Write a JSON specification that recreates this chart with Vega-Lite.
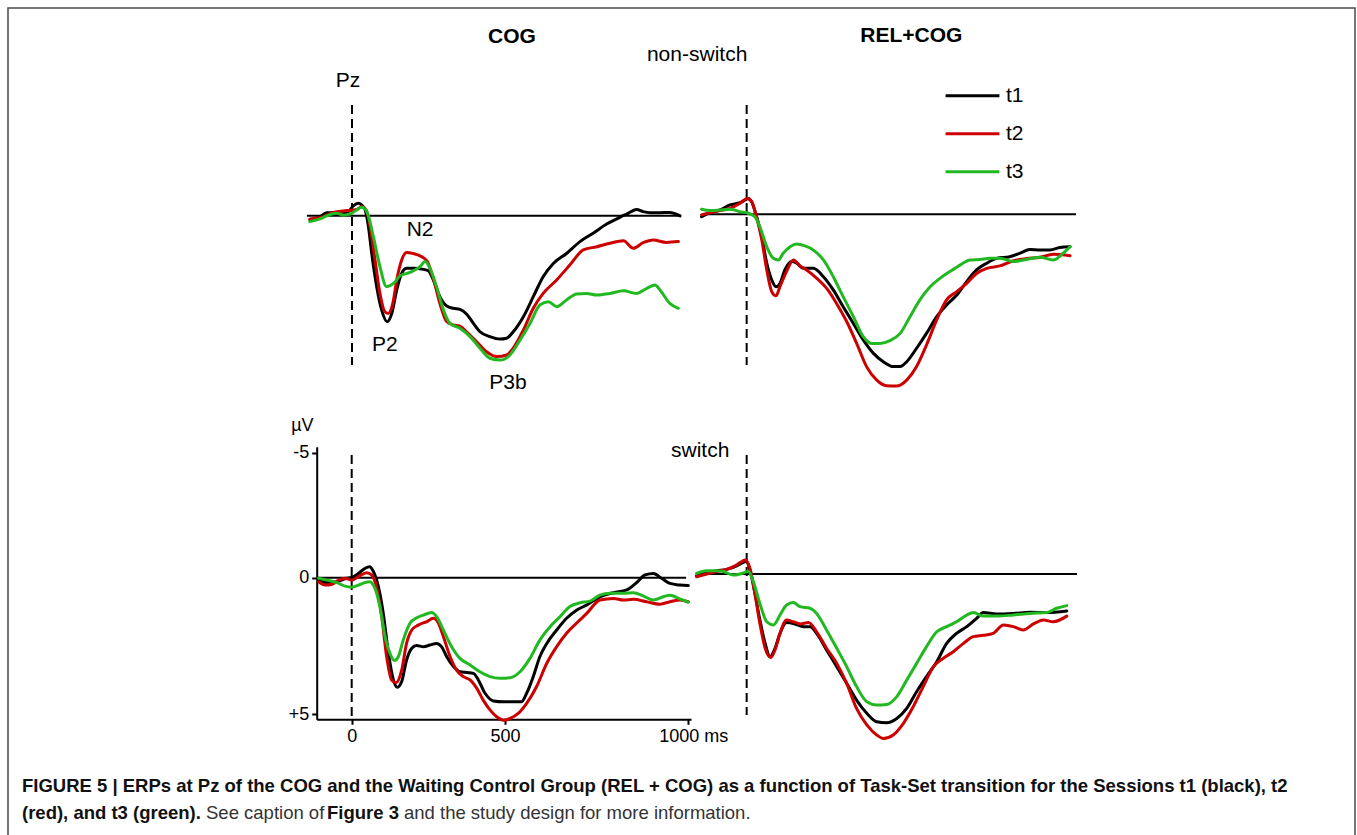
{
  "$schema": "https://vega.github.io/schema/vega-lite/v6.json",
  "width": 1357,
  "height": 835,
  "autosize": {"type": "fit", "contains": "padding"},
  "padding": {"left": 8, "top": 8, "right": 2, "bottom": -4},
  "background": "#ffffff",
  "config": {"view": {"stroke": "#4a4a4a", "strokeWidth": 1.5}, "font": "Liberation Sans"},
  "datasets": {
    "baselines": [
      {"panel": "TL", "from": -137, "to": 1000, "level": 0},
      {"panel": "TR", "from": -136, "to": 1000, "level": 0},
      {"panel": "BL", "from": -114, "to": 994, "level": 0},
      {"panel": "BR", "from": -151, "to": 1001, "level": 0}
    ],
    "onsets": [
      {"panel": "TL", "time": 0, "lo": -4.10, "hi": 5.53},
      {"panel": "TR", "time": 0, "lo": -4.05, "hi": 5.58},
      {"panel": "BL", "time": 0, "lo": -4.91, "hi": 5.19},
      {"panel": "BR", "time": 0, "lo": -4.41, "hi": 5.22}
    ],
    "labels": [
      {"panel": "TL", "kind": "group", "label": "COG", "time": 486, "uV": -6.62},
      {"panel": "TL", "kind": "note", "label": "non-switch", "time": 1049, "uV": -5.95},
      {"panel": "TL", "kind": "note", "label": "Pz", "time": -12, "uV": -4.99},
      {"panel": "TL", "kind": "note", "label": "N2", "time": 207, "uV": 0.53},
      {"panel": "TL", "kind": "note", "label": "P2", "time": 100, "uV": 4.79},
      {"panel": "TL", "kind": "note", "label": "P3b", "time": 474, "uV": 6.20},
      {"panel": "TR", "kind": "group", "label": "REL+COG", "time": 500, "uV": -6.59},
      {"panel": "BR", "kind": "note", "label": "switch", "time": -141, "uV": -4.57},
      {"panel": "BL", "kind": "note", "label": "µV", "time": -162, "uV": -6.07}
    ],
    "caption": [
      {"line": 1, "seg": 0, "kind": "title", "text": "FIGURE 5 | ERPs at Pz of the COG and the Waiting Control Group (REL + COG) as a function of Task-Set transition for the Sessions t1 (black), t2"},
      {"line": 2, "seg": 0, "kind": "title", "text": "(red), and t3 (green)."},
      {"line": 2, "seg": 1, "kind": "body", "text": "See caption of"},
      {"line": 2, "seg": 2, "kind": "ref", "text": "Figure 3"},
      {"line": 2, "seg": 3, "kind": "body", "text": "and the study design for more information."}
    ],
    "curves": [
      {"panel":"TL","session":"t1","time":-128,"uV":0.16},{"panel":"TL","session":"t1","time":-97,"uV":0.04},{"panel":"TL","session":"t1","time":-77,"uV":-0.11},{"panel":"TL","session":"t1","time":-57,"uV":-0.11},{"panel":"TL","session":"t1","time":-36,"uV":-0.06},{"panel":"TL","session":"t1","time":-11,"uV":-0.15},{"panel":"TL","session":"t1","time":4,"uV":-0.36},{"panel":"TL","session":"t1","time":19,"uV":-0.46},{"panel":"TL","session":"t1","time":29,"uV":-0.40},{"panel":"TL","session":"t1","time":40,"uV":-0.21},{"panel":"TL","session":"t1","time":50,"uV":0.41},{"panel":"TL","session":"t1","time":60,"uV":1.40},{"panel":"TL","session":"t1","time":75,"uV":2.63},{"panel":"TL","session":"t1","time":90,"uV":3.49},{"panel":"TL","session":"t1","time":107,"uV":3.93},{"panel":"TL","session":"t1","time":121,"uV":3.62},{"panel":"TL","session":"t1","time":136,"uV":2.75},{"panel":"TL","session":"t1","time":151,"uV":2.14},{"panel":"TL","session":"t1","time":166,"uV":1.95},{"panel":"TL","session":"t1","time":186,"uV":1.95},{"panel":"TL","session":"t1","time":217,"uV":1.99},{"panel":"TL","session":"t1","time":232,"uV":2.04},{"panel":"TL","session":"t1","time":247,"uV":2.38},{"panel":"TL","session":"t1","time":267,"uV":3.0},{"panel":"TL","session":"t1","time":288,"uV":3.35},{"panel":"TL","session":"t1","time":308,"uV":3.43},{"panel":"TL","session":"t1","time":328,"uV":3.47},{"panel":"TL","session":"t1","time":348,"uV":3.64},{"panel":"TL","session":"t1","time":369,"uV":3.99},{"panel":"TL","session":"t1","time":389,"uV":4.30},{"panel":"TL","session":"t1","time":419,"uV":4.48},{"panel":"TL","session":"t1","time":450,"uV":4.57},{"panel":"TL","session":"t1","time":470,"uV":4.54},{"panel":"TL","session":"t1","time":490,"uV":4.30},{"panel":"TL","session":"t1","time":521,"uV":3.74},{"panel":"TL","session":"t1","time":551,"uV":3.0},{"panel":"TL","session":"t1","time":581,"uV":2.26},{"panel":"TL","session":"t1","time":612,"uV":1.77},{"panel":"TL","session":"t1","time":652,"uV":1.40},{"panel":"TL","session":"t1","time":693,"uV":0.96},{"panel":"TL","session":"t1","time":733,"uV":0.65},{"panel":"TL","session":"t1","time":774,"uV":0.31},{"panel":"TL","session":"t1","time":814,"uV":0.06},{"panel":"TL","session":"t1","time":835,"uV":-0.06},{"panel":"TL","session":"t1","time":865,"uV":-0.23},{"panel":"TL","session":"t1","time":885,"uV":-0.15},{"panel":"TL","session":"t1","time":906,"uV":-0.11},{"panel":"TL","session":"t1","time":936,"uV":-0.11},{"panel":"TL","session":"t1","time":966,"uV":-0.12},{"panel":"TL","session":"t1","time":997,"uV":0.01},
      {"panel":"TL","session":"t2","time":-128,"uV":0.12},{"panel":"TL","session":"t2","time":-87,"uV":0.04},{"panel":"TL","session":"t2","time":-57,"uV":-0.12},{"panel":"TL","session":"t2","time":-16,"uV":-0.19},{"panel":"TL","session":"t2","time":14,"uV":-0.23},{"panel":"TL","session":"t2","time":29,"uV":-0.33},{"panel":"TL","session":"t2","time":43,"uV":-0.21},{"panel":"TL","session":"t2","time":55,"uV":0.41},{"panel":"TL","session":"t2","time":70,"uV":1.64},{"panel":"TL","session":"t2","time":85,"uV":2.88},{"panel":"TL","session":"t2","time":100,"uV":3.56},{"panel":"TL","session":"t2","time":110,"uV":3.62},{"panel":"TL","session":"t2","time":124,"uV":3.25},{"panel":"TL","session":"t2","time":136,"uV":2.38},{"panel":"TL","session":"t2","time":151,"uV":1.64},{"panel":"TL","session":"t2","time":166,"uV":1.36},{"panel":"TL","session":"t2","time":186,"uV":1.40},{"panel":"TL","session":"t2","time":212,"uV":1.52},{"panel":"TL","session":"t2","time":229,"uV":1.70},{"panel":"TL","session":"t2","time":247,"uV":2.32},{"panel":"TL","session":"t2","time":267,"uV":3.25},{"panel":"TL","session":"t2","time":288,"uV":3.93},{"panel":"TL","session":"t2","time":308,"uV":4.05},{"panel":"TL","session":"t2","time":328,"uV":4.09},{"panel":"TL","session":"t2","time":348,"uV":4.30},{"panel":"TL","session":"t2","time":379,"uV":4.67},{"panel":"TL","session":"t2","time":409,"uV":5.04},{"panel":"TL","session":"t2","time":440,"uV":5.22},{"panel":"TL","session":"t2","time":470,"uV":5.16},{"panel":"TL","session":"t2","time":490,"uV":4.91},{"panel":"TL","session":"t2","time":521,"uV":4.23},{"panel":"TL","session":"t2","time":551,"uV":3.43},{"panel":"TL","session":"t2","time":581,"uV":2.88},{"panel":"TL","session":"t2","time":622,"uV":2.38},{"panel":"TL","session":"t2","time":662,"uV":1.83},{"panel":"TL","session":"t2","time":703,"uV":1.27},{"panel":"TL","session":"t2","time":744,"uV":1.15},{"panel":"TL","session":"t2","time":784,"uV":1.02},{"panel":"TL","session":"t2","time":825,"uV":0.93},{"panel":"TL","session":"t2","time":855,"uV":1.21},{"panel":"TL","session":"t2","time":885,"uV":1.0},{"panel":"TL","session":"t2","time":916,"uV":0.90},{"panel":"TL","session":"t2","time":956,"uV":0.99},{"panel":"TL","session":"t2","time":992,"uV":0.96},
      {"panel":"TL","session":"t3","time":-128,"uV":0.22},{"panel":"TL","session":"t3","time":-97,"uV":0.12},{"panel":"TL","session":"t3","time":-77,"uV":0.01},{"panel":"TL","session":"t3","time":-47,"uV":-0.09},{"panel":"TL","session":"t3","time":-26,"uV":-0.02},{"panel":"TL","session":"t3","time":-6,"uV":-0.06},{"panel":"TL","session":"t3","time":14,"uV":-0.21},{"panel":"TL","session":"t3","time":29,"uV":-0.31},{"panel":"TL","session":"t3","time":45,"uV":-0.15},{"panel":"TL","session":"t3","time":65,"uV":0.78},{"panel":"TL","session":"t3","time":85,"uV":1.89},{"panel":"TL","session":"t3","time":105,"uV":2.63},{"panel":"TL","session":"t3","time":126,"uV":2.51},{"panel":"TL","session":"t3","time":146,"uV":2.23},{"panel":"TL","session":"t3","time":176,"uV":2.10},{"panel":"TL","session":"t3","time":207,"uV":1.89},{"panel":"TL","session":"t3","time":222,"uV":1.70},{"panel":"TL","session":"t3","time":237,"uV":1.95},{"panel":"TL","session":"t3","time":257,"uV":2.63},{"panel":"TL","session":"t3","time":278,"uV":3.49},{"panel":"TL","session":"t3","time":298,"uV":3.99},{"panel":"TL","session":"t3","time":328,"uV":4.17},{"panel":"TL","session":"t3","time":359,"uV":4.48},{"panel":"TL","session":"t3","time":389,"uV":4.91},{"panel":"TL","session":"t3","time":419,"uV":5.28},{"panel":"TL","session":"t3","time":450,"uV":5.35},{"panel":"TL","session":"t3","time":480,"uV":5.16},{"panel":"TL","session":"t3","time":511,"uV":4.60},{"panel":"TL","session":"t3","time":541,"uV":3.99},{"panel":"TL","session":"t3","time":571,"uV":3.31},{"panel":"TL","session":"t3","time":597,"uV":3.19},{"panel":"TL","session":"t3","time":622,"uV":3.37},{"panel":"TL","session":"t3","time":652,"uV":3.12},{"panel":"TL","session":"t3","time":683,"uV":2.90},{"panel":"TL","session":"t3","time":713,"uV":2.88},{"panel":"TL","session":"t3","time":744,"uV":2.94},{"panel":"TL","session":"t3","time":784,"uV":2.88},{"panel":"TL","session":"t3","time":825,"uV":2.78},{"panel":"TL","session":"t3","time":865,"uV":2.88},{"panel":"TL","session":"t3","time":896,"uV":2.69},{"panel":"TL","session":"t3","time":921,"uV":2.57},{"panel":"TL","session":"t3","time":936,"uV":2.75},{"panel":"TL","session":"t3","time":966,"uV":3.25},{"panel":"TL","session":"t3","time":992,"uV":3.43},
      {"panel":"TR","session":"t1","time":-137,"uV":0.09},{"panel":"TR","session":"t1","time":-111,"uV":-0.06},{"panel":"TR","session":"t1","time":-81,"uV":-0.16},{"panel":"TR","session":"t1","time":-51,"uV":-0.35},{"panel":"TR","session":"t1","time":-20,"uV":-0.43},{"panel":"TR","session":"t1","time":-5,"uV":-0.53},{"panel":"TR","session":"t1","time":5,"uV":-0.59},{"panel":"TR","session":"t1","time":15,"uV":-0.47},{"panel":"TR","session":"t1","time":30,"uV":0.09},{"panel":"TR","session":"t1","time":46,"uV":0.83},{"panel":"TR","session":"t1","time":61,"uV":1.81},{"panel":"TR","session":"t1","time":76,"uV":2.43},{"panel":"TR","session":"t1","time":89,"uV":2.68},{"panel":"TR","session":"t1","time":101,"uV":2.56},{"panel":"TR","session":"t1","time":116,"uV":2.06},{"panel":"TR","session":"t1","time":137,"uV":1.75},{"panel":"TR","session":"t1","time":152,"uV":1.81},{"panel":"TR","session":"t1","time":172,"uV":2.0},{"panel":"TR","session":"t1","time":202,"uV":2.0},{"panel":"TR","session":"t1","time":233,"uV":2.31},{"panel":"TR","session":"t1","time":263,"uV":2.80},{"panel":"TR","session":"t1","time":293,"uV":3.42},{"panel":"TR","session":"t1","time":324,"uV":4.04},{"panel":"TR","session":"t1","time":354,"uV":4.65},{"panel":"TR","session":"t1","time":385,"uV":5.15},{"panel":"TR","session":"t1","time":415,"uV":5.46},{"panel":"TR","session":"t1","time":445,"uV":5.64},{"panel":"TR","session":"t1","time":466,"uV":5.64},{"panel":"TR","session":"t1","time":486,"uV":5.46},{"panel":"TR","session":"t1","time":516,"uV":4.96},{"panel":"TR","session":"t1","time":546,"uV":4.41},{"panel":"TR","session":"t1","time":577,"uV":3.79},{"panel":"TR","session":"t1","time":607,"uV":3.36},{"panel":"TR","session":"t1","time":638,"uV":2.99},{"panel":"TR","session":"t1","time":668,"uV":2.49},{"panel":"TR","session":"t1","time":698,"uV":2.06},{"panel":"TR","session":"t1","time":729,"uV":1.81},{"panel":"TR","session":"t1","time":759,"uV":1.63},{"panel":"TR","session":"t1","time":799,"uV":1.57},{"panel":"TR","session":"t1","time":830,"uV":1.44},{"panel":"TR","session":"t1","time":860,"uV":1.30},{"panel":"TR","session":"t1","time":891,"uV":1.32},{"panel":"TR","session":"t1","time":921,"uV":1.32},{"panel":"TR","session":"t1","time":951,"uV":1.23},{"panel":"TR","session":"t1","time":982,"uV":1.20},
      {"panel":"TR","session":"t2","time":-137,"uV":0.02},{"panel":"TR","session":"t2","time":-111,"uV":-0.06},{"panel":"TR","session":"t2","time":-81,"uV":-0.14},{"panel":"TR","session":"t2","time":-51,"uV":-0.22},{"panel":"TR","session":"t2","time":-20,"uV":-0.41},{"panel":"TR","session":"t2","time":2,"uV":-0.59},{"panel":"TR","session":"t2","time":15,"uV":-0.47},{"panel":"TR","session":"t2","time":30,"uV":0.09},{"panel":"TR","session":"t2","time":46,"uV":0.95},{"panel":"TR","session":"t2","time":61,"uV":2.06},{"panel":"TR","session":"t2","time":76,"uV":2.86},{"panel":"TR","session":"t2","time":89,"uV":3.02},{"panel":"TR","session":"t2","time":101,"uV":2.68},{"panel":"TR","session":"t2","time":121,"uV":2.12},{"panel":"TR","session":"t2","time":142,"uV":1.69},{"panel":"TR","session":"t2","time":162,"uV":1.91},{"panel":"TR","session":"t2","time":182,"uV":2.06},{"panel":"TR","session":"t2","time":213,"uV":2.37},{"panel":"TR","session":"t2","time":243,"uV":2.74},{"panel":"TR","session":"t2","time":273,"uV":3.30},{"panel":"TR","session":"t2","time":304,"uV":3.98},{"panel":"TR","session":"t2","time":334,"uV":4.78},{"panel":"TR","session":"t2","time":364,"uV":5.64},{"panel":"TR","session":"t2","time":395,"uV":6.14},{"panel":"TR","session":"t2","time":425,"uV":6.35},{"panel":"TR","session":"t2","time":455,"uV":6.36},{"panel":"TR","session":"t2","time":486,"uV":6.14},{"panel":"TR","session":"t2","time":516,"uV":5.64},{"panel":"TR","session":"t2","time":546,"uV":4.84},{"panel":"TR","session":"t2","time":577,"uV":3.91},{"panel":"TR","session":"t2","time":607,"uV":3.17},{"panel":"TR","session":"t2","time":638,"uV":2.86},{"panel":"TR","session":"t2","time":668,"uV":2.56},{"panel":"TR","session":"t2","time":698,"uV":2.19},{"panel":"TR","session":"t2","time":729,"uV":2.0},{"panel":"TR","session":"t2","time":769,"uV":1.91},{"panel":"TR","session":"t2","time":810,"uV":1.72},{"panel":"TR","session":"t2","time":850,"uV":1.64},{"panel":"TR","session":"t2","time":891,"uV":1.59},{"panel":"TR","session":"t2","time":931,"uV":1.48},{"panel":"TR","session":"t2","time":982,"uV":1.53},
      {"panel":"TR","session":"t3","time":-137,"uV":-0.19},{"panel":"TR","session":"t3","time":-111,"uV":-0.14},{"panel":"TR","session":"t3","time":-81,"uV":-0.16},{"panel":"TR","session":"t3","time":-51,"uV":-0.19},{"panel":"TR","session":"t3","time":-20,"uV":-0.10},{"panel":"TR","session":"t3","time":5,"uV":-0.04},{"panel":"TR","session":"t3","time":25,"uV":0.09},{"panel":"TR","session":"t3","time":40,"uV":0.46},{"panel":"TR","session":"t3","time":61,"uV":1.20},{"panel":"TR","session":"t3","time":81,"uV":1.63},{"panel":"TR","session":"t3","time":96,"uV":1.69},{"panel":"TR","session":"t3","time":111,"uV":1.44},{"panel":"TR","session":"t3","time":132,"uV":1.20},{"panel":"TR","session":"t3","time":152,"uV":1.10},{"panel":"TR","session":"t3","time":177,"uV":1.17},{"panel":"TR","session":"t3","time":202,"uV":1.32},{"panel":"TR","session":"t3","time":233,"uV":1.69},{"panel":"TR","session":"t3","time":263,"uV":2.31},{"panel":"TR","session":"t3","time":293,"uV":3.05},{"panel":"TR","session":"t3","time":324,"uV":3.79},{"panel":"TR","session":"t3","time":354,"uV":4.53},{"panel":"TR","session":"t3","time":380,"uV":4.78},{"panel":"TR","session":"t3","time":405,"uV":4.78},{"panel":"TR","session":"t3","time":435,"uV":4.68},{"panel":"TR","session":"t3","time":466,"uV":4.41},{"panel":"TR","session":"t3","time":496,"uV":3.79},{"panel":"TR","session":"t3","time":526,"uV":3.17},{"panel":"TR","session":"t3","time":557,"uV":2.68},{"panel":"TR","session":"t3","time":587,"uV":2.37},{"panel":"TR","session":"t3","time":617,"uV":2.12},{"panel":"TR","session":"t3","time":648,"uV":1.88},{"panel":"TR","session":"t3","time":678,"uV":1.69},{"panel":"TR","session":"t3","time":708,"uV":1.67},{"panel":"TR","session":"t3","time":739,"uV":1.63},{"panel":"TR","session":"t3","time":769,"uV":1.63},{"panel":"TR","session":"t3","time":810,"uV":1.75},{"panel":"TR","session":"t3","time":850,"uV":1.67},{"panel":"TR","session":"t3","time":891,"uV":1.59},{"panel":"TR","session":"t3","time":931,"uV":1.69},{"panel":"TR","session":"t3","time":961,"uV":1.44},{"panel":"TR","session":"t3","time":982,"uV":1.20},
      {"panel":"BL","session":"t1","time":-109,"uV":0.09},{"panel":"BL","session":"t1","time":-82,"uV":0.18},{"panel":"BL","session":"t1","time":-49,"uV":0.15},{"panel":"BL","session":"t1","time":-16,"uV":0.02},{"panel":"BL","session":"t1","time":0,"uV":-0.01},{"panel":"BL","session":"t1","time":22,"uV":-0.17},{"panel":"BL","session":"t1","time":43,"uV":-0.37},{"panel":"BL","session":"t1","time":58,"uV":-0.44},{"panel":"BL","session":"t1","time":71,"uV":-0.24},{"panel":"BL","session":"t1","time":87,"uV":0.33},{"panel":"BL","session":"t1","time":103,"uV":1.31},{"panel":"BL","session":"t1","time":120,"uV":2.78},{"panel":"BL","session":"t1","time":136,"uV":3.75},{"panel":"BL","session":"t1","time":149,"uV":4.02},{"panel":"BL","session":"t1","time":163,"uV":3.81},{"panel":"BL","session":"t1","time":179,"uV":3.02},{"panel":"BL","session":"t1","time":196,"uV":2.59},{"panel":"BL","session":"t1","time":212,"uV":2.49},{"panel":"BL","session":"t1","time":234,"uV":2.53},{"panel":"BL","session":"t1","time":255,"uV":2.47},{"panel":"BL","session":"t1","time":277,"uV":2.41},{"panel":"BL","session":"t1","time":293,"uV":2.53},{"panel":"BL","session":"t1","time":310,"uV":2.90},{"panel":"BL","session":"t1","time":332,"uV":3.26},{"panel":"BL","session":"t1","time":353,"uV":3.45},{"panel":"BL","session":"t1","time":375,"uV":3.48},{"panel":"BL","session":"t1","time":397,"uV":3.51},{"panel":"BL","session":"t1","time":413,"uV":3.75},{"panel":"BL","session":"t1","time":435,"uV":4.24},{"panel":"BL","session":"t1","time":462,"uV":4.52},{"panel":"BL","session":"t1","time":495,"uV":4.55},{"panel":"BL","session":"t1","time":523,"uV":4.55},{"panel":"BL","session":"t1","time":545,"uV":4.55},{"panel":"BL","session":"t1","time":559,"uV":4.24},{"panel":"BL","session":"t1","time":577,"uV":3.63},{"panel":"BL","session":"t1","time":595,"uV":2.90},{"panel":"BL","session":"t1","time":614,"uV":2.41},{"panel":"BL","session":"t1","time":641,"uV":1.92},{"panel":"BL","session":"t1","time":668,"uV":1.49},{"panel":"BL","session":"t1","time":695,"uV":1.19},{"panel":"BL","session":"t1","time":723,"uV":1.00},{"panel":"BL","session":"t1","time":759,"uV":0.70},{"panel":"BL","session":"t1","time":796,"uV":0.55},{"panel":"BL","session":"t1","time":832,"uV":0.45},{"panel":"BL","session":"t1","time":859,"uV":0.18},{"panel":"BL","session":"t1","time":882,"uV":-0.11},{"panel":"BL","session":"t1","time":905,"uV":-0.17},{"panel":"BL","session":"t1","time":927,"uV":0.02},{"panel":"BL","session":"t1","time":950,"uV":0.21},{"panel":"BL","session":"t1","time":977,"uV":0.27},{"panel":"BL","session":"t1","time":1000,"uV":0.29},
      {"panel":"BL","session":"t2","time":-109,"uV":0.15},{"panel":"BL","session":"t2","time":-87,"uV":0.27},{"panel":"BL","session":"t2","time":-65,"uV":0.24},{"panel":"BL","session":"t2","time":-43,"uV":0.09},{"panel":"BL","session":"t2","time":-22,"uV":0.02},{"panel":"BL","session":"t2","time":0,"uV":0.09},{"panel":"BL","session":"t2","time":22,"uV":-0.04},{"panel":"BL","session":"t2","time":49,"uV":-0.20},{"panel":"BL","session":"t2","time":65,"uV":-0.11},{"panel":"BL","session":"t2","time":82,"uV":0.39},{"panel":"BL","session":"t2","time":98,"uV":1.43},{"panel":"BL","session":"t2","time":114,"uV":2.90},{"panel":"BL","session":"t2","time":130,"uV":3.75},{"panel":"BL","session":"t2","time":145,"uV":3.85},{"panel":"BL","session":"t2","time":163,"uV":3.39},{"panel":"BL","session":"t2","time":179,"uV":2.41},{"panel":"BL","session":"t2","time":196,"uV":1.92},{"panel":"BL","session":"t2","time":217,"uV":1.74},{"panel":"BL","session":"t2","time":245,"uV":1.61},{"panel":"BL","session":"t2","time":266,"uV":1.49},{"panel":"BL","session":"t2","time":283,"uV":1.67},{"panel":"BL","session":"t2","time":299,"uV":2.16},{"panel":"BL","session":"t2","time":321,"uV":2.90},{"panel":"BL","session":"t2","time":342,"uV":3.39},{"panel":"BL","session":"t2","time":364,"uV":3.63},{"panel":"BL","session":"t2","time":386,"uV":3.75},{"panel":"BL","session":"t2","time":408,"uV":4.06},{"panel":"BL","session":"t2","time":429,"uV":4.49},{"panel":"BL","session":"t2","time":451,"uV":4.85},{"panel":"BL","session":"t2","time":473,"uV":5.10},{"panel":"BL","session":"t2","time":495,"uV":5.22},{"panel":"BL","session":"t2","time":514,"uV":5.16},{"panel":"BL","session":"t2","time":536,"uV":4.98},{"panel":"BL","session":"t2","time":559,"uV":4.61},{"panel":"BL","session":"t2","time":586,"uV":4.00},{"panel":"BL","session":"t2","time":614,"uV":3.14},{"panel":"BL","session":"t2","time":641,"uV":2.53},{"panel":"BL","session":"t2","time":668,"uV":2.04},{"panel":"BL","session":"t2","time":695,"uV":1.67},{"panel":"BL","session":"t2","time":723,"uV":1.31},{"panel":"BL","session":"t2","time":759,"uV":0.82},{"panel":"BL","session":"t2","time":796,"uV":0.76},{"panel":"BL","session":"t2","time":823,"uV":0.82},{"panel":"BL","session":"t2","time":850,"uV":0.79},{"panel":"BL","session":"t2","time":886,"uV":0.88},{"panel":"BL","session":"t2","time":923,"uV":0.97},{"panel":"BL","session":"t2","time":950,"uV":0.88},{"panel":"BL","session":"t2","time":977,"uV":0.82},{"panel":"BL","session":"t2","time":1000,"uV":0.88},
      {"panel":"BL","session":"t3","time":-109,"uV":0.02},{"panel":"BL","session":"t3","time":-82,"uV":0.09},{"panel":"BL","session":"t3","time":-49,"uV":0.18},{"panel":"BL","session":"t3","time":-22,"uV":0.31},{"panel":"BL","session":"t3","time":0,"uV":0.35},{"panel":"BL","session":"t3","time":22,"uV":0.27},{"panel":"BL","session":"t3","time":43,"uV":0.18},{"panel":"BL","session":"t3","time":58,"uV":0.15},{"panel":"BL","session":"t3","time":76,"uV":0.39},{"panel":"BL","session":"t3","time":92,"uV":1.06},{"panel":"BL","session":"t3","time":109,"uV":2.16},{"panel":"BL","session":"t3","time":125,"uV":2.78},{"panel":"BL","session":"t3","time":139,"uV":3.04},{"panel":"BL","session":"t3","time":152,"uV":2.90},{"panel":"BL","session":"t3","time":168,"uV":2.29},{"panel":"BL","session":"t3","time":190,"uV":1.67},{"panel":"BL","session":"t3","time":212,"uV":1.47},{"panel":"BL","session":"t3","time":234,"uV":1.37},{"panel":"BL","session":"t3","time":261,"uV":1.28},{"panel":"BL","session":"t3","time":277,"uV":1.43},{"panel":"BL","session":"t3","time":299,"uV":1.92},{"panel":"BL","session":"t3","time":326,"uV":2.53},{"panel":"BL","session":"t3","time":353,"uV":2.96},{"panel":"BL","session":"t3","time":386,"uV":3.20},{"panel":"BL","session":"t3","time":418,"uV":3.45},{"panel":"BL","session":"t3","time":451,"uV":3.63},{"panel":"BL","session":"t3","time":484,"uV":3.69},{"panel":"BL","session":"t3","time":514,"uV":3.67},{"panel":"BL","session":"t3","time":541,"uV":3.45},{"panel":"BL","session":"t3","time":568,"uV":2.96},{"panel":"BL","session":"t3","time":595,"uV":2.29},{"panel":"BL","session":"t3","time":623,"uV":1.80},{"panel":"BL","session":"t3","time":650,"uV":1.43},{"panel":"BL","session":"t3","time":677,"uV":1.06},{"panel":"BL","session":"t3","time":705,"uV":0.92},{"panel":"BL","session":"t3","time":732,"uV":0.86},{"panel":"BL","session":"t3","time":759,"uV":0.64},{"panel":"BL","session":"t3","time":786,"uV":0.57},{"panel":"BL","session":"t3","time":823,"uV":0.57},{"panel":"BL","session":"t3","time":850,"uV":0.55},{"panel":"BL","session":"t3","time":877,"uV":0.67},{"panel":"BL","session":"t3","time":905,"uV":0.82},{"panel":"BL","session":"t3","time":932,"uV":0.70},{"panel":"BL","session":"t3","time":950,"uV":0.64},{"panel":"BL","session":"t3","time":977,"uV":0.78},{"panel":"BL","session":"t3","time":1000,"uV":0.90},
      {"panel":"BR","session":"t1","time":-152,"uV":0.07},{"panel":"BR","session":"t1","time":-121,"uV":-0.05},{"panel":"BR","session":"t1","time":-91,"uV":-0.12},{"panel":"BR","session":"t1","time":-61,"uV":-0.17},{"panel":"BR","session":"t1","time":-35,"uV":-0.27},{"panel":"BR","session":"t1","time":-15,"uV":-0.40},{"panel":"BR","session":"t1","time":-2,"uV":-0.46},{"panel":"BR","session":"t1","time":10,"uV":-0.15},{"panel":"BR","session":"t1","time":25,"uV":0.72},{"panel":"BR","session":"t1","time":40,"uV":1.70},{"panel":"BR","session":"t1","time":56,"uV":2.57},{"panel":"BR","session":"t1","time":71,"uV":3.06},{"panel":"BR","session":"t1","time":86,"uV":2.75},{"panel":"BR","session":"t1","time":101,"uV":2.20},{"panel":"BR","session":"t1","time":121,"uV":1.80},{"panel":"BR","session":"t1","time":146,"uV":1.85},{"panel":"BR","session":"t1","time":172,"uV":1.95},{"panel":"BR","session":"t1","time":192,"uV":1.95},{"panel":"BR","session":"t1","time":212,"uV":2.20},{"panel":"BR","session":"t1","time":242,"uV":2.81},{"panel":"BR","session":"t1","time":273,"uV":3.43},{"panel":"BR","session":"t1","time":303,"uV":4.05},{"panel":"BR","session":"t1","time":333,"uV":4.67},{"panel":"BR","session":"t1","time":364,"uV":5.16},{"panel":"BR","session":"t1","time":394,"uV":5.47},{"panel":"BR","session":"t1","time":424,"uV":5.51},{"panel":"BR","session":"t1","time":455,"uV":5.35},{"panel":"BR","session":"t1","time":485,"uV":4.98},{"panel":"BR","session":"t1","time":515,"uV":4.36},{"panel":"BR","session":"t1","time":545,"uV":3.80},{"panel":"BR","session":"t1","time":576,"uV":3.25},{"panel":"BR","session":"t1","time":606,"uV":2.57},{"panel":"BR","session":"t1","time":636,"uV":2.20},{"panel":"BR","session":"t1","time":667,"uV":1.95},{"panel":"BR","session":"t1","time":697,"uV":1.64},{"panel":"BR","session":"t1","time":717,"uV":1.43},{"panel":"BR","session":"t1","time":758,"uV":1.48},{"panel":"BR","session":"t1","time":808,"uV":1.46},{"panel":"BR","session":"t1","time":859,"uV":1.42},{"panel":"BR","session":"t1","time":909,"uV":1.43},{"panel":"BR","session":"t1","time":970,"uV":1.37},
      {"panel":"BR","session":"t2","time":-152,"uV":0.10},{"panel":"BR","session":"t2","time":-121,"uV":0.0},{"panel":"BR","session":"t2","time":-91,"uV":-0.09},{"panel":"BR","session":"t2","time":-61,"uV":-0.17},{"panel":"BR","session":"t2","time":-40,"uV":-0.27},{"panel":"BR","session":"t2","time":-20,"uV":-0.42},{"panel":"BR","session":"t2","time":-5,"uV":-0.52},{"panel":"BR","session":"t2","time":10,"uV":-0.21},{"panel":"BR","session":"t2","time":25,"uV":0.72},{"panel":"BR","session":"t2","time":40,"uV":1.83},{"panel":"BR","session":"t2","time":56,"uV":2.75},{"panel":"BR","session":"t2","time":73,"uV":3.09},{"panel":"BR","session":"t2","time":86,"uV":2.81},{"panel":"BR","session":"t2","time":101,"uV":2.20},{"panel":"BR","session":"t2","time":121,"uV":1.70},{"panel":"BR","session":"t2","time":141,"uV":1.77},{"panel":"BR","session":"t2","time":162,"uV":1.85},{"panel":"BR","session":"t2","time":187,"uV":1.80},{"panel":"BR","session":"t2","time":212,"uV":2.14},{"panel":"BR","session":"t2","time":242,"uV":2.75},{"panel":"BR","session":"t2","time":273,"uV":3.31},{"panel":"BR","session":"t2","time":303,"uV":4.05},{"panel":"BR","session":"t2","time":333,"uV":4.98},{"panel":"BR","session":"t2","time":364,"uV":5.59},{"panel":"BR","session":"t2","time":394,"uV":5.96},{"panel":"BR","session":"t2","time":414,"uV":6.09},{"panel":"BR","session":"t2","time":444,"uV":5.96},{"panel":"BR","session":"t2","time":475,"uV":5.53},{"panel":"BR","session":"t2","time":505,"uV":4.91},{"panel":"BR","session":"t2","time":535,"uV":4.17},{"panel":"BR","session":"t2","time":566,"uV":3.43},{"panel":"BR","session":"t2","time":596,"uV":3.12},{"panel":"BR","session":"t2","time":626,"uV":2.88},{"panel":"BR","session":"t2","time":657,"uV":2.57},{"panel":"BR","session":"t2","time":687,"uV":2.32},{"panel":"BR","session":"t2","time":717,"uV":2.27},{"panel":"BR","session":"t2","time":747,"uV":2.20},{"panel":"BR","session":"t2","time":778,"uV":1.89},{"panel":"BR","session":"t2","time":808,"uV":1.95},{"panel":"BR","session":"t2","time":838,"uV":2.07},{"panel":"BR","session":"t2","time":869,"uV":1.85},{"panel":"BR","session":"t2","time":899,"uV":1.70},{"panel":"BR","session":"t2","time":929,"uV":1.77},{"panel":"BR","session":"t2","time":970,"uV":1.56},
      {"panel":"BR","session":"t3","time":-152,"uV":-0.02},{"panel":"BR","session":"t3","time":-121,"uV":-0.12},{"panel":"BR","session":"t3","time":-91,"uV":-0.12},{"panel":"BR","session":"t3","time":-71,"uV":-0.09},{"panel":"BR","session":"t3","time":-40,"uV":0.04},{"panel":"BR","session":"t3","time":-15,"uV":-0.02},{"panel":"BR","session":"t3","time":5,"uV":-0.09},{"panel":"BR","session":"t3","time":20,"uV":0.28},{"panel":"BR","session":"t3","time":40,"uV":1.09},{"panel":"BR","session":"t3","time":61,"uV":1.77},{"panel":"BR","session":"t3","time":81,"uV":1.89},{"panel":"BR","session":"t3","time":101,"uV":1.52},{"panel":"BR","session":"t3","time":121,"uV":1.15},{"panel":"BR","session":"t3","time":141,"uV":1.06},{"panel":"BR","session":"t3","time":162,"uV":1.21},{"panel":"BR","session":"t3","time":192,"uV":1.27},{"panel":"BR","session":"t3","time":212,"uV":1.46},{"panel":"BR","session":"t3","time":242,"uV":2.07},{"panel":"BR","session":"t3","time":273,"uV":2.75},{"panel":"BR","session":"t3","time":303,"uV":3.43},{"panel":"BR","session":"t3","time":333,"uV":4.17},{"panel":"BR","session":"t3","time":364,"uV":4.73},{"panel":"BR","session":"t3","time":394,"uV":4.85},{"panel":"BR","session":"t3","time":424,"uV":4.83},{"panel":"BR","session":"t3","time":455,"uV":4.54},{"panel":"BR","session":"t3","time":485,"uV":3.93},{"panel":"BR","session":"t3","time":515,"uV":3.31},{"panel":"BR","session":"t3","time":545,"uV":2.69},{"panel":"BR","session":"t3","time":576,"uV":2.14},{"panel":"BR","session":"t3","time":606,"uV":1.95},{"panel":"BR","session":"t3","time":636,"uV":1.77},{"panel":"BR","session":"t3","time":667,"uV":1.52},{"panel":"BR","session":"t3","time":687,"uV":1.43},{"panel":"BR","session":"t3","time":717,"uV":1.56},{"panel":"BR","session":"t3","time":758,"uV":1.56},{"panel":"BR","session":"t3","time":808,"uV":1.52},{"panel":"BR","session":"t3","time":859,"uV":1.46},{"panel":"BR","session":"t3","time":909,"uV":1.43},{"panel":"BR","session":"t3","time":939,"uV":1.27},{"panel":"BR","session":"t3","time":970,"uV":1.17}
    ]
  },
  "layer": [
    {
      "layer": [
        {"data": {"name": "baselines"}, "transform": [{"filter": "datum.panel == 'TL'"}],
         "mark": {"type": "rule", "color": "#000000", "strokeWidth": 2},
         "encoding": {"x": {"field": "from", "type": "quantitative", "scale": {"domain": [0, 1000], "range": [344, 673], "nice": false, "zero": false}, "axis": null}, "x2": {"field": "to"},
                      "y": {"field": "level", "type": "quantitative", "scale": {"domain": [0, 5], "range": [207.67, 342.67], "nice": false, "zero": false}, "axis": null}}},
        {"data": {"name": "onsets"}, "transform": [{"filter": "datum.panel == 'TL'"}],
         "mark": {"type": "rule", "color": "#000000", "strokeWidth": 2, "strokeDash": [9, 5]},
         "encoding": {"x": {"field": "time", "type": "quantitative", "scale": {"domain": [0, 1000], "range": [344, 673], "nice": false, "zero": false}, "axis": null},
                      "y": {"field": "lo", "type": "quantitative", "scale": {"domain": [0, 5], "range": [207.67, 342.67], "nice": false, "zero": false}, "axis": null}, "y2": {"field": "hi"}}},
        {"data": {"name": "curves"}, "transform": [{"filter": "datum.panel == 'TL'"}],
         "mark": {"type": "line", "strokeWidth": 3, "interpolate": "monotone", "strokeJoin": "round", "strokeCap": "round"},
         "encoding": {"x": {"field": "time", "type": "quantitative", "scale": {"domain": [0, 1000], "range": [344, 673], "nice": false, "zero": false}, "axis": null},
                      "y": {"field": "uV", "type": "quantitative", "scale": {"domain": [0, 5], "range": [207.67, 342.67], "nice": false, "zero": false}, "axis": null},
                      "color": {"field": "session", "type": "nominal", "scale": {"domain": ["t1", "t2", "t3"], "range": ["#000000", "#cc0000", "#22b822"]},
                                "legend": {"title": null, "orient": "none", "legendX": 936, "legendY": 69, "symbolType": "stroke", "symbolSize": 2900, "symbolStrokeWidth": 3, "labelFontSize": 21, "labelFont": "Liberation Sans", "labelColor": "#000000", "labelOffset": 5, "rowPadding": 0, "clipHeight": 37.5}}}},
        {"data": {"name": "labels"}, "transform": [{"filter": "datum.panel == 'TL' && datum.kind == 'group'"}],
         "mark": {"type": "text", "font": "Liberation Sans", "fontSize": 21, "fontWeight": "bold", "color": "#000000", "align": "center", "baseline": "middle"},
         "encoding": {"x": {"field": "time", "type": "quantitative", "scale": {"domain": [0, 1000], "range": [344, 673], "nice": false, "zero": false}, "axis": null},
                      "y": {"field": "uV", "type": "quantitative", "scale": {"domain": [0, 5], "range": [207.67, 342.67], "nice": false, "zero": false}, "axis": null},
                      "text": {"field": "label"}}},
        {"data": {"name": "labels"}, "transform": [{"filter": "datum.panel == 'TL' && datum.kind == 'note'"}],
         "mark": {"type": "text", "font": "Liberation Sans", "fontSize": 21, "color": "#000000", "align": "center", "baseline": "middle"},
         "encoding": {"x": {"field": "time", "type": "quantitative", "scale": {"domain": [0, 1000], "range": [344, 673], "nice": false, "zero": false}, "axis": null},
                      "y": {"field": "uV", "type": "quantitative", "scale": {"domain": [0, 5], "range": [207.67, 342.67], "nice": false, "zero": false}, "axis": null},
                      "text": {"field": "label"}}}
      ]
    },
    {
      "layer": [
        {"data": {"name": "baselines"}, "transform": [{"filter": "datum.panel == 'TR'"}],
         "mark": {"type": "rule", "color": "#000000", "strokeWidth": 2},
         "encoding": {"x": {"field": "from", "type": "quantitative", "scale": {"domain": [0, 1000], "range": [738.67, 1068], "nice": false, "zero": false}, "axis": null}, "x2": {"field": "to"},
                      "y": {"field": "level", "type": "quantitative", "scale": {"domain": [0, 5], "range": [206.33, 341.33], "nice": false, "zero": false}, "axis": null}}},
        {"data": {"name": "onsets"}, "transform": [{"filter": "datum.panel == 'TR'"}],
         "mark": {"type": "rule", "color": "#000000", "strokeWidth": 2, "strokeDash": [9, 5]},
         "encoding": {"x": {"field": "time", "type": "quantitative", "scale": {"domain": [0, 1000], "range": [738.67, 1068], "nice": false, "zero": false}, "axis": null},
                      "y": {"field": "lo", "type": "quantitative", "scale": {"domain": [0, 5], "range": [206.33, 341.33], "nice": false, "zero": false}, "axis": null}, "y2": {"field": "hi"}}},
        {"data": {"name": "curves"}, "transform": [{"filter": "datum.panel == 'TR'"}],
         "mark": {"type": "line", "strokeWidth": 3, "interpolate": "monotone", "strokeJoin": "round", "strokeCap": "round"},
         "encoding": {"x": {"field": "time", "type": "quantitative", "scale": {"domain": [0, 1000], "range": [738.67, 1068], "nice": false, "zero": false}, "axis": null},
                      "y": {"field": "uV", "type": "quantitative", "scale": {"domain": [0, 5], "range": [206.33, 341.33], "nice": false, "zero": false}, "axis": null},
                      "color": {"field": "session", "type": "nominal", "scale": {"domain": ["t1", "t2", "t3"], "range": ["#000000", "#cc0000", "#22b822"]},
                                "legend": {"title": null, "orient": "none", "legendX": 936, "legendY": 69, "symbolType": "stroke", "symbolSize": 2900, "symbolStrokeWidth": 3, "labelFontSize": 21, "labelFont": "Liberation Sans", "labelColor": "#000000", "labelOffset": 5, "rowPadding": 0, "clipHeight": 37.5}}}},
        {"data": {"name": "labels"}, "transform": [{"filter": "datum.panel == 'TR'"}],
         "mark": {"type": "text", "font": "Liberation Sans", "fontSize": 21, "fontWeight": "bold", "color": "#000000", "align": "center", "baseline": "middle"},
         "encoding": {"x": {"field": "time", "type": "quantitative", "scale": {"domain": [0, 1000], "range": [738.67, 1068], "nice": false, "zero": false}, "axis": null},
                      "y": {"field": "uV", "type": "quantitative", "scale": {"domain": [0, 5], "range": [206.33, 341.33], "nice": false, "zero": false}, "axis": null},
                      "text": {"field": "label"}}}
      ]
    },
    {
      "layer": [
        {"data": {"name": "baselines"}, "transform": [{"filter": "datum.panel == 'BL'"}],
         "mark": {"type": "rule", "color": "#000000", "strokeWidth": 2},
         "encoding": {"x": {"field": "from", "type": "quantitative", "scale": {"domain": [-115, 0, 500, 1000, 1008], "range": [308.7, 343.7, 497, 680.3, 683], "nice": false, "zero": false},
                            "axis": {"orient": "bottom", "offset": -119.7, "values": [0, 500, 1000], "title": null, "labelExpr": "datum.value == 1000 ? '1000 ms' : datum.label", "labelOffset": {"condition": {"test": "datum.value == 1000", "value": 5}, "value": 0}, "labelFont": "Liberation Sans", "labelFontSize": 18, "labelColor": "#000000", "labelPadding": 3, "tickSize": 5, "tickWidth": 2, "tickColor": "#000000", "domainWidth": 2, "domainColor": "#000000", "grid": false, "labelFlush": false, "labelOverlap": false, "labelBound": false}},
                      "x2": {"field": "to"},
                      "y": {"field": "level", "type": "quantitative", "scale": {"domain": [-5.24, -5, 0, 5, 5.19], "range": [438.7, 444.7, 569.7, 706, 711.3], "nice": false, "zero": false},
                            "axis": {"orient": "left", "offset": -308.7, "values": [-5, 0, 5], "title": null, "labelExpr": "datum.value > 0 ? '+' + datum.value : '' + datum.value", "labelFont": "Liberation Sans", "labelFontSize": 18, "labelColor": "#000000", "labelPadding": 3, "tickSize": 5, "tickWidth": 2, "tickColor": "#000000", "domainWidth": 2, "domainColor": "#000000", "grid": false, "labelFlush": false, "labelOverlap": false, "labelBound": false}}}},
        {"data": {"name": "onsets"}, "transform": [{"filter": "datum.panel == 'BL'"}],
         "mark": {"type": "rule", "color": "#000000", "strokeWidth": 2, "strokeDash": [9, 5]},
         "encoding": {"x": {"field": "time", "type": "quantitative", "scale": {"domain": [-115, 0, 500, 1000, 1008], "range": [308.7, 343.7, 497, 680.3, 683], "nice": false, "zero": false},
                            "axis": {"orient": "bottom", "offset": -119.7, "values": [0, 500, 1000], "title": null, "labelExpr": "datum.value == 1000 ? '1000 ms' : datum.label", "labelOffset": {"condition": {"test": "datum.value == 1000", "value": 5}, "value": 0}, "labelFont": "Liberation Sans", "labelFontSize": 18, "labelColor": "#000000", "labelPadding": 3, "tickSize": 5, "tickWidth": 2, "tickColor": "#000000", "domainWidth": 2, "domainColor": "#000000", "grid": false, "labelFlush": false, "labelOverlap": false, "labelBound": false}},
                      "y": {"field": "lo", "type": "quantitative", "scale": {"domain": [-5.24, -5, 0, 5, 5.19], "range": [438.7, 444.7, 569.7, 706, 711.3], "nice": false, "zero": false},
                            "axis": {"orient": "left", "offset": -308.7, "values": [-5, 0, 5], "title": null, "labelExpr": "datum.value > 0 ? '+' + datum.value : '' + datum.value", "labelFont": "Liberation Sans", "labelFontSize": 18, "labelColor": "#000000", "labelPadding": 3, "tickSize": 5, "tickWidth": 2, "tickColor": "#000000", "domainWidth": 2, "domainColor": "#000000", "grid": false, "labelFlush": false, "labelOverlap": false, "labelBound": false}},
                      "y2": {"field": "hi"}}},
        {"data": {"name": "curves"}, "transform": [{"filter": "datum.panel == 'BL'"}],
         "mark": {"type": "line", "strokeWidth": 3, "interpolate": "monotone", "strokeJoin": "round", "strokeCap": "round"},
         "encoding": {"x": {"field": "time", "type": "quantitative", "scale": {"domain": [-115, 0, 500, 1000, 1008], "range": [308.7, 343.7, 497, 680.3, 683], "nice": false, "zero": false},
                            "axis": {"orient": "bottom", "offset": -119.7, "values": [0, 500, 1000], "title": null, "labelExpr": "datum.value == 1000 ? '1000 ms' : datum.label", "labelOffset": {"condition": {"test": "datum.value == 1000", "value": 5}, "value": 0}, "labelFont": "Liberation Sans", "labelFontSize": 18, "labelColor": "#000000", "labelPadding": 3, "tickSize": 5, "tickWidth": 2, "tickColor": "#000000", "domainWidth": 2, "domainColor": "#000000", "grid": false, "labelFlush": false, "labelOverlap": false, "labelBound": false}},
                      "y": {"field": "uV", "type": "quantitative", "scale": {"domain": [-5.24, -5, 0, 5, 5.19], "range": [438.7, 444.7, 569.7, 706, 711.3], "nice": false, "zero": false},
                            "axis": {"orient": "left", "offset": -308.7, "values": [-5, 0, 5], "title": null, "labelExpr": "datum.value > 0 ? '+' + datum.value : '' + datum.value", "labelFont": "Liberation Sans", "labelFontSize": 18, "labelColor": "#000000", "labelPadding": 3, "tickSize": 5, "tickWidth": 2, "tickColor": "#000000", "domainWidth": 2, "domainColor": "#000000", "grid": false, "labelFlush": false, "labelOverlap": false, "labelBound": false}},
                      "color": {"field": "session", "type": "nominal", "scale": {"domain": ["t1", "t2", "t3"], "range": ["#000000", "#cc0000", "#22b822"]},
                                "legend": {"title": null, "orient": "none", "legendX": 936, "legendY": 69, "symbolType": "stroke", "symbolSize": 2900, "symbolStrokeWidth": 3, "labelFontSize": 21, "labelFont": "Liberation Sans", "labelColor": "#000000", "labelOffset": 5, "rowPadding": 0, "clipHeight": 37.5}}}},
        {"data": {"name": "labels"}, "transform": [{"filter": "datum.panel == 'BL'"}],
         "mark": {"type": "text", "font": "Liberation Sans", "fontSize": 18, "color": "#000000", "align": "center", "baseline": "middle"},
         "encoding": {"x": {"field": "time", "type": "quantitative", "scale": {"domain": [-115, 0, 500, 1000, 1008], "range": [308.7, 343.7, 497, 680.3, 683], "nice": false, "zero": false},
                            "axis": {"orient": "bottom", "offset": -119.7, "values": [0, 500, 1000], "title": null, "labelExpr": "datum.value == 1000 ? '1000 ms' : datum.label", "labelOffset": {"condition": {"test": "datum.value == 1000", "value": 5}, "value": 0}, "labelFont": "Liberation Sans", "labelFontSize": 18, "labelColor": "#000000", "labelPadding": 3, "tickSize": 5, "tickWidth": 2, "tickColor": "#000000", "domainWidth": 2, "domainColor": "#000000", "grid": false, "labelFlush": false, "labelOverlap": false, "labelBound": false}},
                      "y": {"field": "uV", "type": "quantitative", "scale": {"domain": [-5.24, -5, 0, 5, 5.19], "range": [438.7, 444.7, 569.7, 706, 711.3], "nice": false, "zero": false},
                            "axis": {"orient": "left", "offset": -308.7, "values": [-5, 0, 5], "title": null, "labelExpr": "datum.value > 0 ? '+' + datum.value : '' + datum.value", "labelFont": "Liberation Sans", "labelFontSize": 18, "labelColor": "#000000", "labelPadding": 3, "tickSize": 5, "tickWidth": 2, "tickColor": "#000000", "domainWidth": 2, "domainColor": "#000000", "grid": false, "labelFlush": false, "labelOverlap": false, "labelBound": false}},
                      "text": {"field": "label"}}}
      ]
    },
    {
      "layer": [
        {"data": {"name": "baselines"}, "transform": [{"filter": "datum.panel == 'BR'"}],
         "mark": {"type": "rule", "color": "#000000", "strokeWidth": 2},
         "encoding": {"x": {"field": "from", "type": "quantitative", "scale": {"domain": [0, 1000], "range": [738.67, 1068.67], "nice": false, "zero": false}, "axis": null}, "x2": {"field": "to"},
                      "y": {"field": "level", "type": "quantitative", "scale": {"domain": [0, 5], "range": [566, 701], "nice": false, "zero": false}, "axis": null}}},
        {"data": {"name": "onsets"}, "transform": [{"filter": "datum.panel == 'BR'"}],
         "mark": {"type": "rule", "color": "#000000", "strokeWidth": 2, "strokeDash": [9, 5]},
         "encoding": {"x": {"field": "time", "type": "quantitative", "scale": {"domain": [0, 1000], "range": [738.67, 1068.67], "nice": false, "zero": false}, "axis": null},
                      "y": {"field": "lo", "type": "quantitative", "scale": {"domain": [0, 5], "range": [566, 701], "nice": false, "zero": false}, "axis": null}, "y2": {"field": "hi"}}},
        {"data": {"name": "curves"}, "transform": [{"filter": "datum.panel == 'BR'"}],
         "mark": {"type": "line", "strokeWidth": 3, "interpolate": "monotone", "strokeJoin": "round", "strokeCap": "round"},
         "encoding": {"x": {"field": "time", "type": "quantitative", "scale": {"domain": [0, 1000], "range": [738.67, 1068.67], "nice": false, "zero": false}, "axis": null},
                      "y": {"field": "uV", "type": "quantitative", "scale": {"domain": [0, 5], "range": [566, 701], "nice": false, "zero": false}, "axis": null},
                      "color": {"field": "session", "type": "nominal", "scale": {"domain": ["t1", "t2", "t3"], "range": ["#000000", "#cc0000", "#22b822"]},
                                "legend": {"title": null, "orient": "none", "legendX": 936, "legendY": 69, "symbolType": "stroke", "symbolSize": 2900, "symbolStrokeWidth": 3, "labelFontSize": 21, "labelFont": "Liberation Sans", "labelColor": "#000000", "labelOffset": 5, "rowPadding": 0, "clipHeight": 37.5}}}},
        {"data": {"name": "labels"}, "transform": [{"filter": "datum.panel == 'BR'"}],
         "mark": {"type": "text", "font": "Liberation Sans", "fontSize": 21, "color": "#000000", "align": "center", "baseline": "middle"},
         "encoding": {"x": {"field": "time", "type": "quantitative", "scale": {"domain": [0, 1000], "range": [738.67, 1068.67], "nice": false, "zero": false}, "axis": null},
                      "y": {"field": "uV", "type": "quantitative", "scale": {"domain": [0, 5], "range": [566, 701], "nice": false, "zero": false}, "axis": null},
                      "text": {"field": "label"}}}
      ]
    },
    {
      "data": {"name": "caption"},
      "layer": [
        {"transform": [{"filter": "datum.kind != 'body'"}],
         "mark": {"type": "text", "font": "Liberation Sans", "fontSize": 18.5, "fontWeight": "bold", "color": "#111111", "align": "left", "baseline": "middle"},
         "encoding": {"x": {"field": "seg", "type": "quantitative", "scale": {"domain": [0, 1, 2, 3], "range": [14, 198, 319, 396], "nice": false, "zero": false}, "axis": null},
                      "y": {"field": "line", "type": "quantitative", "scale": {"domain": [1, 2], "range": [778, 805], "nice": false, "zero": false}, "axis": null},
                      "text": {"field": "text"}}},
        {"transform": [{"filter": "datum.kind == 'body'"}],
         "mark": {"type": "text", "font": "Liberation Sans", "fontSize": 18.5, "color": "#333333", "align": "left", "baseline": "middle"},
         "encoding": {"x": {"field": "seg", "type": "quantitative", "scale": {"domain": [0, 1, 2, 3], "range": [14, 198, 319, 396], "nice": false, "zero": false}, "axis": null},
                      "y": {"field": "line", "type": "quantitative", "scale": {"domain": [1, 2], "range": [778, 805], "nice": false, "zero": false}, "axis": null},
                      "text": {"field": "text"}}}
      ]
    }
  ],
  "resolve": {"scale": {"x": "independent", "y": "independent"}}
}
